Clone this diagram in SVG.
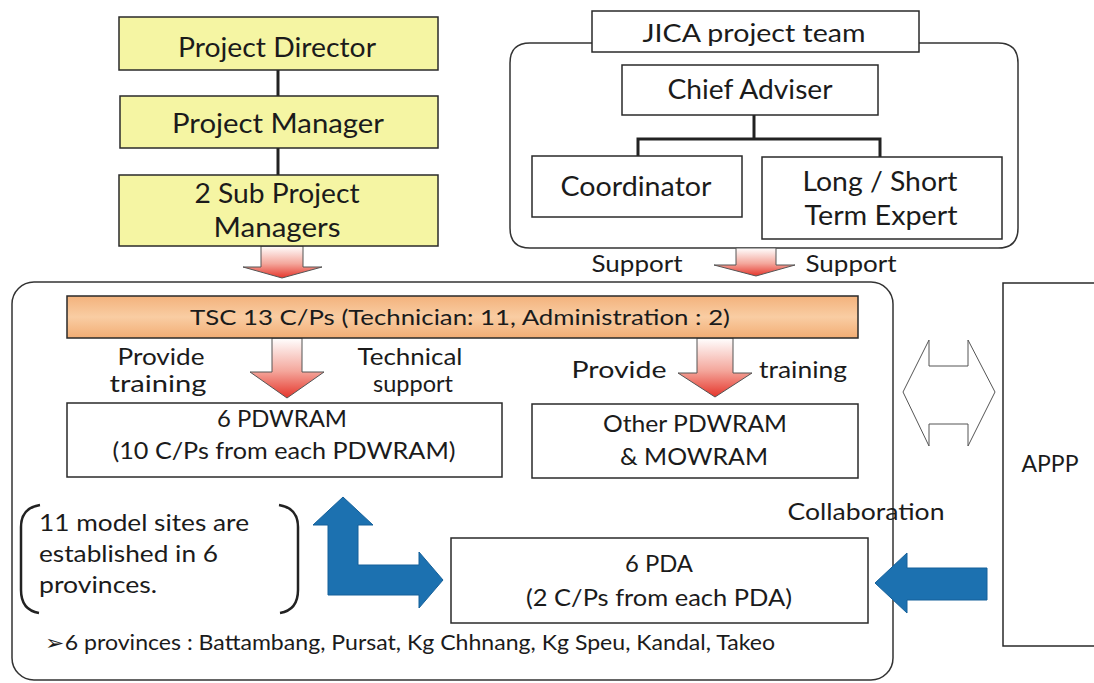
<svg xmlns="http://www.w3.org/2000/svg" width="1094" height="683" viewBox="0 0 1094 683">
<defs>
<linearGradient id="redv" x1="0" y1="0" x2="0" y2="1">
<stop offset="0" stop-color="#ffffff"/>
<stop offset="0.55" stop-color="#f4a79c"/>
<stop offset="1" stop-color="#e5352b"/>
</linearGradient>
<linearGradient id="orange" x1="0" y1="0" x2="0" y2="1">
<stop offset="0" stop-color="#f3b27c"/>
<stop offset="0.5" stop-color="#f9cda3"/>
<stop offset="1" stop-color="#f2ad74"/>
</linearGradient>
<style>
text{font-family:Lato,"Liberation Sans",sans-serif;fill:#1b1b1b}
.c{text-anchor:middle}
.box{fill:#fff;stroke:#2a2a2a;stroke-width:1.5}
.ybox{fill:#f5f5a3;stroke:#2a2a2a;stroke-width:1.5}
.cont{fill:none;stroke:#333;stroke-width:1.5}
.line{fill:none;stroke:#222;stroke-width:3}
.red{fill:url(#redv);stroke:#555;stroke-width:1}
.blue{fill:#1c71b0;stroke:#15609a;stroke-width:1}
.hollow{fill:#fff;stroke:#555;stroke-width:1}
.t27{font-size:27px}
.t25{font-size:25px}
.t24{font-size:24px}
.t23{font-size:23px}
.t22{font-size:22px}
.t21{font-size:21px}
</style>
</defs>
<rect width="1094" height="683" fill="#fff"/>

<g id="jica-container"><path class="cont" d="M592 43 H530 Q510 43 510 63 V228 Q510 248 530 248 H998 Q1018 248 1018 228 V63 Q1018 43 998 43 H919"/></g>
<g id="main-container"><rect class="cont" x="12" y="282" width="881" height="398" rx="22" ry="22"/></g>

<g id="connectors">
<line class="line" x1="278" y1="70" x2="278" y2="96"/>
<line class="line" x1="278" y1="148" x2="278" y2="175"/>
<polyline class="line" points="638,156 638,139 880,139 880,157"/>
<line class="line" x1="754" y1="115" x2="754" y2="139"/>
<path class="red" d="M261 246 H303 V267 H322 L282 278 L243 267 H261 Z"/>
<path class="red" d="M736 248 H776 V265 H795 L756 276 L714 265 H736 Z"/>
<path class="red" d="M272 338 H302 V372 H324 L287 398 L250 372 H272 Z"/>
<path class="red" d="M697 338 H733 V373 H752 L715 397 L678 373 H697 Z"/>
<path class="hollow" d="M903 392 L929 340 V366 H968 V340 L995 392 L968 446 V424 H929 V446 Z"/>
<path class="blue" d="M343 497 L373 525 H358 V565 H419 V552 L443 580 L419 608 V595 H328 V525 H313 Z"/>
<path class="blue" d="M875 583 L907 553 V568 H987 V600 H907 V613 Z"/>
</g>

<g id="project-director"><rect class="ybox" x="119" y="17" width="319" height="53"/><text class="c t27" x="277" y="57" textLength="198" lengthAdjust="spacingAndGlyphs">Project Director</text></g>
<g id="project-manager"><rect class="ybox" x="120" y="96" width="318" height="52"/><text class="c t27" x="278" y="133" textLength="212" lengthAdjust="spacingAndGlyphs">Project Manager</text></g>
<g id="sub-managers"><rect class="ybox" x="119" y="175" width="319" height="71"/><text class="c t27" x="277" y="203" textLength="165" lengthAdjust="spacingAndGlyphs">2 Sub Project</text><text class="c t27" x="277" y="237" textLength="127" lengthAdjust="spacingAndGlyphs">Managers</text></g>

<g id="jica-team"><rect class="box" x="592" y="11" width="327" height="41"/><text class="c t25" x="754" y="42" textLength="223" lengthAdjust="spacingAndGlyphs">JICA project team</text></g>
<g id="chief-adviser"><rect class="box" x="622" y="65" width="256" height="50"/><text class="c t27" x="750" y="99" textLength="165" lengthAdjust="spacingAndGlyphs">Chief Adviser</text></g>
<g id="coordinator"><rect class="box" x="532" y="156" width="210" height="61"/><text class="c t27" x="636" y="196" textLength="151" lengthAdjust="spacingAndGlyphs">Coordinator</text></g>
<g id="expert"><rect class="box" x="762" y="157" width="240" height="82"/><text class="c t27" x="880" y="191" textLength="155" lengthAdjust="spacingAndGlyphs">Long / Short</text><text class="c t27" x="881" y="225" textLength="153" lengthAdjust="spacingAndGlyphs">Term Expert</text></g>

<g id="support-labels"><text class="c t24" x="637" y="272" textLength="91" lengthAdjust="spacingAndGlyphs">Support</text><text class="c t24" x="851" y="272" textLength="91" lengthAdjust="spacingAndGlyphs">Support</text></g>

<g id="tsc"><rect x="67" y="296" width="791" height="42" fill="url(#orange)" stroke="#2a2a2a" stroke-width="1.5"/><text class="c t22" x="460" y="325" textLength="540" lengthAdjust="spacingAndGlyphs">TSC 13 C/Ps (Technician: 11, Administration : 2)</text></g>

<g id="labels-left"><text class="c t24" x="161" y="365" textLength="87" lengthAdjust="spacingAndGlyphs">Provide</text><text class="c t24" x="158" y="392" textLength="97" lengthAdjust="spacingAndGlyphs">training</text><text class="c t24" x="410" y="365" textLength="105" lengthAdjust="spacingAndGlyphs">Technical</text><text class="c t24" x="413" y="392" textLength="80" lengthAdjust="spacingAndGlyphs">support</text></g>
<g id="labels-right"><text class="c t24" x="619" y="378" textLength="95" lengthAdjust="spacingAndGlyphs">Provide</text><text class="c t24" x="803" y="378" textLength="88" lengthAdjust="spacingAndGlyphs">training</text></g>

<g id="pdwram6"><rect class="box" x="67" y="403" width="435" height="74"/><text class="c t24" x="282" y="427" textLength="130" lengthAdjust="spacingAndGlyphs">6 PDWRAM</text><text class="c t24" x="284" y="459" textLength="343" lengthAdjust="spacingAndGlyphs">(10 C/Ps from each PDWRAM)</text></g>
<g id="other-pdwram"><rect class="box" x="532" y="404" width="326" height="74"/><text class="c t24" x="695" y="432" textLength="184" lengthAdjust="spacingAndGlyphs">Other PDWRAM</text><text class="c t24" x="694" y="465" textLength="148" lengthAdjust="spacingAndGlyphs">&amp; MOWRAM</text></g>

<g id="appp"><path fill="#fff" stroke="#2a2a2a" stroke-width="1.5" d="M1100 283 H1003 V646 H1100"/><text class="c t23" x="1050" y="472" textLength="57" lengthAdjust="spacingAndGlyphs">APPP</text></g>
<g id="collab"><text class="c t23" x="866" y="520" textLength="157" lengthAdjust="spacingAndGlyphs">Collaboration</text></g>

<g id="model-sites">
<path fill="none" stroke="#222" stroke-width="2.5" d="M40 505 Q21 508 21 527 V590 Q21 610 39 613"/>
<path fill="none" stroke="#222" stroke-width="2.5" d="M279 505 Q298 508 298 527 V590 Q298 610 280 613"/>
<text class="t24" x="39" y="531" textLength="210" lengthAdjust="spacingAndGlyphs">11 model sites are</text>
<text class="t24" x="39" y="562" textLength="179" lengthAdjust="spacingAndGlyphs">established in 6</text>
<text class="t24" x="39" y="593" textLength="118" lengthAdjust="spacingAndGlyphs">provinces.</text>
</g>

<g id="pda6"><rect class="box" x="451" y="538" width="417" height="85"/><text class="c t24" x="659" y="572" textLength="68" lengthAdjust="spacingAndGlyphs">6 PDA</text><text class="c t24" x="659" y="606" textLength="266" lengthAdjust="spacingAndGlyphs">(2 C/Ps from each PDA)</text></g>

<g id="provinces-note"><text class="t21" x="45" y="650" textLength="730" lengthAdjust="spacingAndGlyphs">➢6 provinces : Battambang, Pursat, Kg Chhnang, Kg Speu, Kandal, Takeo</text></g>
</svg>
